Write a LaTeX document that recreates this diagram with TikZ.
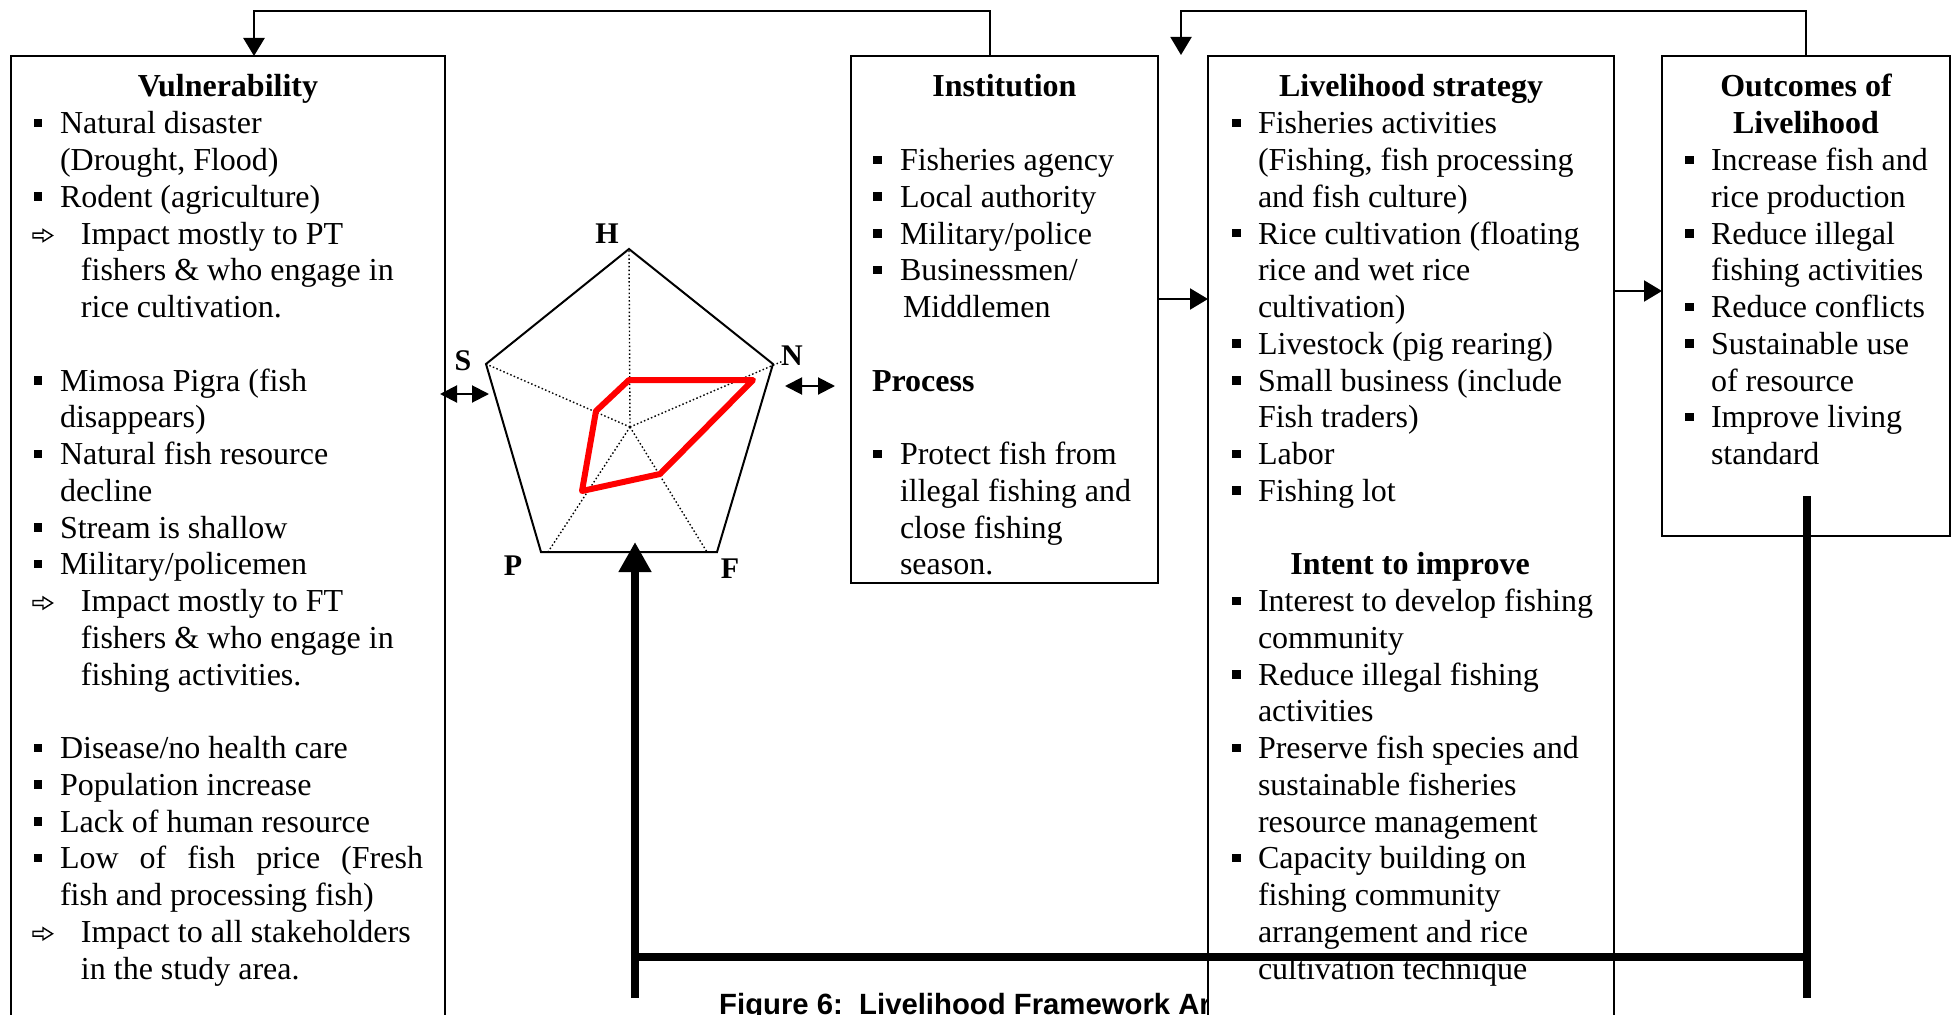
\documentclass[tikz,border=0pt]{standalone}
\usepackage{fontspec}
\setmainfont{Liberation Serif}
\newfontfamily\capfont{Liberation Sans}
\usetikzlibrary{arrows.meta,calc}
\newcommand{\bodyfont}{\fontsize{32}{36.75}\selectfont}
\newcommand{\sqbul}{\raisebox{6.5pt}{\rule{8.5pt}{8.5pt}}}
\tikzset{
  box/.style={draw, line width=2pt, fill=white, inner sep=0pt, outer sep=0pt, anchor=north west},
  ttl/.style={inner sep=0pt, outer sep=0pt, anchor=base, font=\bodyfont\bfseries},
  lst/.style={inner sep=0pt, outer sep=0pt, anchor=base west, font=\bodyfont},
  conn/.style={line width=2pt, -{Triangle[length=18pt,width=21pt]}},
  dblarrow/.style={line width=2pt, {Triangle[length=17pt,width=17pt]}-{Triangle[length=17pt,width=17pt]}},
  heavy/.style={line width=7.5pt},
  axisline/.style={line width=1.4pt, dash pattern=on 1.5pt off 2.3pt},
  plab/.style={inner sep=0pt, outer sep=0pt, anchor=base, font=\fontsize{30}{30}\selectfont\bfseries},
  warrow/.pic={\draw[line width=1.4pt, line join=miter] (0,-2.4) -- (10,-2.4) -- (10,-6) -- (19.5,0) -- (10,6) -- (10,2.4) -- (0,2.4) -- cycle;}
}
\begin{document}
\begin{tikzpicture}[x=1pt,y=-1pt]
\path[use as bounding box, fill=white] (0,0) rectangle (1953,1014);

% caption (partly hidden by the strategy box)
\node[anchor=base west, inner sep=0pt, font=\capfont\bfseries\fontsize{29.3}{30}\selectfont] (cap) at (719,1014) {Figure 6:\ \ Livelihood Framework Ar};

% boxes
\node[box, minimum width=434pt, minimum height=974pt] (vul) at (11,56) {};
\node[box, minimum width=307pt, minimum height=527pt] (inst) at (851,56) {};
\node[box, minimum width=406pt, minimum height=974pt] (liv) at (1208,56) {};
\node[box, minimum width=288pt, minimum height=480pt] (out) at (1662,56) {};

% Vulnerability
\node[ttl] (vulT) at (228,97) {Vulnerability};
\node[lst] (vulL) at (34,133.75) {\begin{tabular}[t]{@{}p{26pt}@{}l@{}}
\sqbul & Natural disaster\\
 & (Drought, Flood)\\
\sqbul & Rodent (agriculture)\\
 & \hspace{21pt}Impact mostly to PT\\
 & \hspace{21pt}fishers \& who engage in\\
 & \hspace{21pt}rice cultivation.\\
 & \\
\sqbul & Mimosa Pigra (fish\\
 & disappears)\\
\sqbul & Natural fish resource\\
 & decline\\
\sqbul & Stream is shallow\\
\sqbul & Military/policemen\\
 & \hspace{21pt}Impact mostly to FT\\
 & \hspace{21pt}fishers \& who engage in\\
 & \hspace{21pt}fishing activities.\\
 & \\
\sqbul & Disease/no health care\\
\sqbul & Population increase\\
\sqbul & Lack of human resource\\
\sqbul & \makebox[363pt][s]{Low of fish price (Fresh}\\
 & fish and processing fish)\\
 & \hspace{21pt}Impact to all stakeholders\\
 & \hspace{21pt}in the study area.
\end{tabular}};
\pic at (33,235.5) {warrow};
\pic at (33,603) {warrow};
\pic at (33,933.75) {warrow};

% Institution
\node[ttl] (instT) at (1004.5,97) {Institution};
\node[lst] (instL) at (873,170.5) {\begin{tabular}[t]{@{}p{27pt}@{}l@{}}
\sqbul & Fisheries agency\\
\sqbul & Local authority\\
\sqbul & Military/police\\
\sqbul & Businessmen/\\
 & \hspace{3pt}Middlemen\\
 & \\
\multicolumn{2}{@{}l@{}}{\hspace{-1pt}\bfseries Process}\\
 & \\
\sqbul & Protect fish from\\
 & illegal fishing and\\
 & close fishing\\
 & season.
\end{tabular}};

% Livelihood strategy
\node[ttl] (livT) at (1411,97) {Livelihood strategy};
\node[lst] (livL) at (1232,133.75) {\begin{tabular}[t]{@{}p{26pt}@{}l@{}}
\sqbul & Fisheries activities\\
 & (Fishing, fish processing\\
 & and fish culture)\\
\sqbul & Rice cultivation (floating\\
 & rice and wet rice\\
 & cultivation)\\
\sqbul & Livestock (pig rearing)\\
\sqbul & Small business (include\\
 & Fish traders)\\
\sqbul & Labor\\
\sqbul & Fishing lot
\end{tabular}};
\node[ttl] (intT) at (1410,574.75) {Intent to improve};
\node[lst] (intL) at (1232,611.5) {\begin{tabular}[t]{@{}p{26pt}@{}l@{}}
\sqbul & Interest to develop fishing\\
 & community\\
\sqbul & Reduce illegal fishing\\
 & activities\\
\sqbul & Preserve fish species and\\
 & sustainable fisheries\\
 & resource management\\
\sqbul & Capacity building on\\
 & fishing community\\
 & arrangement and rice\\
 & cultivation technique
\end{tabular}};

% Outcomes
\node[ttl] (outT) at (1806,97) {\begin{tabular}[t]{@{}c@{}}Outcomes of\\Livelihood\end{tabular}};
\node[lst] (outL) at (1685,170.5) {\begin{tabular}[t]{@{}p{26pt}@{}l@{}}
\sqbul & Increase fish and\\
 & rice production\\
\sqbul & Reduce illegal\\
 & fishing activities\\
\sqbul & Reduce conflicts\\
\sqbul & Sustainable use\\
 & of resource\\
\sqbul & Improve living\\
 & standard
\end{tabular}};

% pentagon chart
\coordinate (pH) at (629,249);
\coordinate (pN) at (773,364);
\coordinate (pF) at (717,552);
\coordinate (pP) at (541,552);
\coordinate (pS) at (486,364);
\coordinate (pC) at (630,427);
\coordinate (aN) at (783,361);
\coordinate (aF) at (707,552);
\coordinate (aP) at (548,552);
\draw[axisline] (pC) -- (pH) (pC) -- (aN) (pC) -- (aF) (pC) -- (aP) (pC) -- (pS);
\draw[line width=2pt, line join=miter] (pH) -- (pN) -- (pF) -- (pP) -- (pS) -- cycle;
\draw[red, line width=6pt, line join=round] (629,380) -- (753,380) -- (660,474) -- (582,491) -- (596,411) -- cycle;
\node[plab] (lH) at (607,243) {H};
\node[plab] (lN) at (792,365) {N};
\node[plab] (lS) at (463,370) {S};
\node[plab] (lP) at (513,575) {P};
\node[plab] (lF) at (730,578) {F};

% double arrows
\coordinate (dl1) at (440,394);
\coordinate (dl2) at (489,394);
\coordinate (dr1) at (785,386);
\coordinate (dr2) at (835,386);
\draw[dblarrow] (dl1) -- (dl2);
\draw[dblarrow] (dr1) -- (dr2);

% connectors
\draw[conn, line width=2.5pt] ($(inst.north west)+(139,0)$) -- ++(0,-45) -| ($(vul.north west)+(243,0)$);
\coordinate (gap) at (1181,55);
\draw[conn] (out.north) -- ++(0,-45) -| (gap);
\coordinate (y1) at (0,299);
\coordinate (y2) at (0,291);
\draw[conn] (inst.east |- y1) -- (liv.west |- y1);
\draw[conn] (liv.east |- y2) -- (out.west |- y2);

% heavy feedback line
\coordinate (t1) at (1807,496);
\coordinate (t2) at (1807,998);
\coordinate (h1) at (635,957);
\coordinate (h2) at (1807,957);
\coordinate (b1) at (635,998);
\coordinate (btip) at (635,542);
\draw[heavy] (t1) -- (t2);
\draw[heavy] (h1) -- (h2);
\draw[heavy, -{Triangle[length=30pt,width=31pt]}] (b1) -- (btip);
\end{tikzpicture}
\end{document}
